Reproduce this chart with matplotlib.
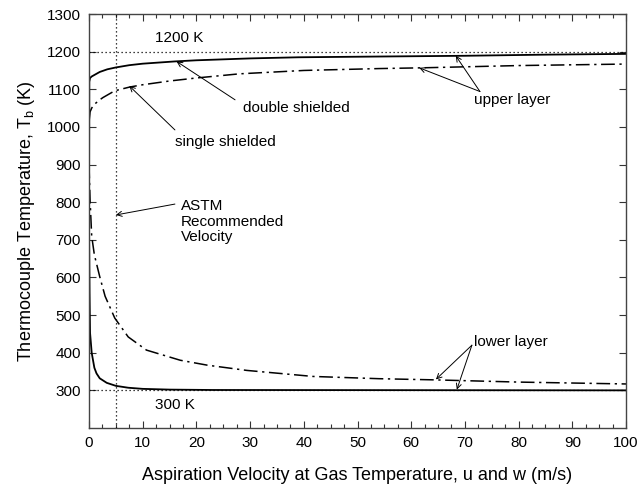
import matplotlib
matplotlib.use("Agg")
import matplotlib.pyplot as plt
from matplotlib.ticker import MultipleLocator

plt.rcParams['font.family'] = ['Liberation Sans', 'DejaVu Sans']
plt.rcParams['mathtext.fontset'] = 'custom'
plt.rcParams['mathtext.rm'] = 'Liberation Sans'

# Double shielded, upper layer (solid)
x_ds_up = [0, 0.05, 0.2, 0.5, 1, 2, 3.4, 5, 7.5, 10, 16, 20, 30, 39, 54, 70, 85, 100]
t_ds_up = [750, 1120, 1130, 1134, 1138, 1146, 1153, 1158, 1164, 1168, 1174, 1177, 1182, 1185, 1187, 1189, 1192, 1194]

# Single shielded, upper layer (dash-dot)
x_ss_up = [0, 0.05, 0.2, 0.5, 1, 2, 2.6, 4.8, 7.6, 10, 15, 20, 28, 40, 54, 62, 80, 100]
t_ss_up = [750, 1020, 1040, 1050, 1060, 1072, 1078, 1096, 1106, 1112, 1122, 1130, 1141, 1150, 1155, 1157, 1163, 1167]

# Single shielded, lower layer (dash-dot)
x_ss_lo = [0, 0.2, 0.5, 1, 2, 3, 4.8, 7.3, 10.7, 17, 22, 29.4, 41.7, 54, 64, 80, 100]
t_ss_lo = [900, 806, 710, 660, 602, 550, 492, 442, 407, 380, 367, 353, 337, 331, 328, 322, 317]

# Double shielded, lower layer (solid)
x_ds_lo = [0, 0.1, 0.2, 0.5, 1, 1.4, 2, 3.3, 5, 7.3, 10, 15, 23, 100]
t_ds_lo = [750, 560, 452, 400, 360, 345, 332, 320, 312, 307, 304, 302, 301, 300]

ref_temps = [1200, 300]
astm_velocity = 5

fig = plt.figure(figsize=(6.39, 4.87), dpi=100)
ax = fig.add_axes([89/639, 1-428/487, (626-89)/639, (428-14)/487])

dashdot = (0, (9, 3, 1.5, 3))
ax.plot(x_ds_up, t_ds_up, color='black', lw=1.3, solid_capstyle='butt')
ax.plot(x_ds_lo, t_ds_lo, color='black', lw=1.3, solid_capstyle='butt')
ax.plot(x_ss_up, t_ss_up, color='black', lw=1.1, linestyle=dashdot)
ax.plot(x_ss_lo, t_ss_lo, color='black', lw=1.1, linestyle=dashdot)

for t in ref_temps:
    ax.axhline(t, color='black', lw=0.9, linestyle=(0, (1, 2.2)))
ax.axvline(astm_velocity, color='black', lw=0.9, linestyle=(0, (1, 2.2)))

ax.set_xlim(0, 100)
ax.set_ylim(200, 1300)
ax.xaxis.set_major_locator(MultipleLocator(10))
ax.xaxis.set_minor_locator(MultipleLocator(2.5))
ax.set_yticks([300, 400, 500, 600, 700, 800, 900, 1000, 1100, 1200, 1300])
ax.tick_params(which='both', direction='in', top=True, right=True, labelsize=11, color='#333333')
ax.tick_params(which='major', length=5, width=0.8, pad=6)
ax.tick_params(which='minor', length=3, width=0.8)
for s in ax.spines.values():
    s.set_color('#444444')
    s.set_linewidth(1.0)

ax.set_xlabel('Aspiration Velocity at Gas Temperature, u and w (m/s)', fontsize=13, labelpad=12)
ax.set_ylabel(r'Thermocouple Temperature, T$_\mathregular{b}$ (K)', fontsize=13, labelpad=7)

fs = 11
ap = dict(arrowstyle='->', lw=0.7, color='black', shrinkA=0, shrinkB=0, mutation_scale=9)
ax.text(12.3, 1236, '1200 K', fontsize=fs, va='center', ha='left')
ax.text(12.3, 260, '300 K', fontsize=fs, va='center', ha='left')
ax.text(28.7, 1051, 'double shielded', fontsize=fs, va='center', ha='left')
ax.annotate('', xy=(16.3, 1174), xytext=(27.2, 1072), arrowprops=ap)
ax.text(16.0, 961, 'single shielded', fontsize=fs, va='center', ha='left')
ax.annotate('', xy=(7.5, 1109), xytext=(16.0, 992), arrowprops=ap)
ax.text(71.7, 1072, 'upper layer', fontsize=fs, va='center', ha='left')
ax.annotate('', xy=(68.3, 1189), xytext=(72.8, 1094), arrowprops=ap)
ax.annotate('', xy=(61.5, 1157), xytext=(72.8, 1094), arrowprops=ap)
ax.text(71.7, 429, 'lower layer', fontsize=fs, va='center', ha='left')
ax.annotate('', xy=(64.6, 329), xytext=(71.3, 420), arrowprops=ap)
ax.annotate('', xy=(68.5, 302), xytext=(71.3, 420), arrowprops=ap)
ax.text(17.1, 748, 'ASTM\nRecommended\nVelocity', fontsize=fs, va='center', ha='left', linespacing=1.15)
ax.annotate('', xy=(5.0, 766), xytext=(16.0, 795), arrowprops=ap)

fig.savefig('out.png', dpi=100)
